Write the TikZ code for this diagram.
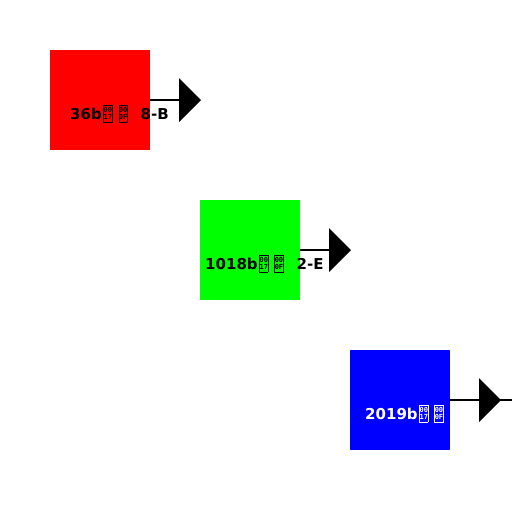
\documentclass[tikz,border=0pt]{standalone}
\usepackage{fontspec}
\setmainfont{DejaVu Sans}
\newfontfamily\tofufont{DejaVu Sans Mono}
\newcommand\tofuline[1]{\hbox to 7.6pt{\hss\fontsize{7}{7}\tofufont #1\hss}}
\newcommand\tofu[2]{\raisebox{-2.5pt}{\setlength\fboxrule{0.8pt}\setlength\fboxsep{0pt}\fbox{\vbox to 16pt{\offinterlineskip\vss\tofuline{#1}\vskip 1.8pt\tofuline{#2}\vss}}}}
\newcommand\tofupair{\hspace{1.5pt}\tofu{00}{17}\hspace{6pt}\tofu{00}{0F}}
\begin{document}
\begin{tikzpicture}[x=1pt,y=-1pt,
  sq/.style={minimum size=100pt,inner sep=0pt,outer sep=0pt},
  lbl/.style={anchor=base west,inner sep=0pt,font=\fontsize{15}{18}\selectfont\bfseries},
  conn/.style={line width=1.5pt,black},
  head/.style={fill=black}]
\useasboundingbox[fill=white] (0,0) rectangle (512,512);
% squares
\node[sq,fill=red,anchor=north west] (r) at (50,50) {};
\node[sq,fill=green,anchor=north west] (g) at (200,200) {};
\node[sq,fill=blue,anchor=north west] (b) at (350,350) {};
% arrows
\coordinate (rt) at (179,100);
\coordinate (gt) at (329,250);
\coordinate (be) at (512,400);
\draw[conn] (r.east) -- (rt);
\fill[head] (179,78) -- (201,100) -- (179,122) -- cycle;
\draw[conn] (g.east) -- (gt);
\fill[head] (329,228) -- (351,250) -- (329,272) -- cycle;
\draw[conn] (b.east) -- (be);
\fill[head] (479,378) -- (501,400) -- (479,422) -- cycle;
% labels
\node[lbl,text=black] (lr) at (70,119) {36b\tofupair\hspace{13pt}8-B};
\node[lbl,text=black] (lg) at (205,269) {1018b\tofupair\hspace{13pt}2-E};
\begin{scope}
\clip (350,350) rectangle (450,450);
\node[lbl,text=white] (lb) at (365,419) {2019b\tofupair};
\end{scope}
\end{tikzpicture}
\end{document}
